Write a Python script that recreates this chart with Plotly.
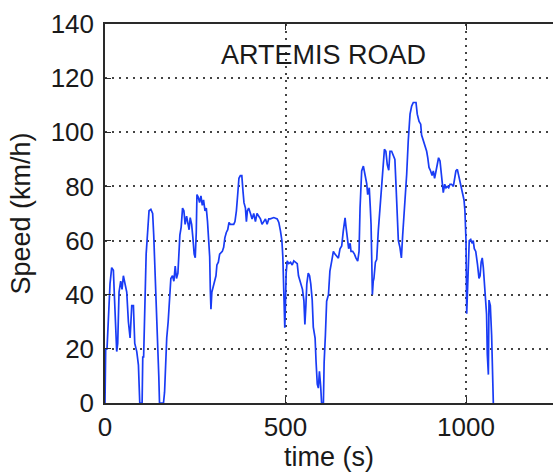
import plotly.graph_objects as go

# ARTEMIS road driving cycle: vehicle speed versus time
time_s = [
    0, 1.9, 5.6, 9.3, 13.9, 18.5, 23.2, 25.9, 28.7, 32.4, 35.2, 38.9, 43.5, 47.2,
    50.9, 55.6, 60.2, 64.8, 69.5, 74.1, 78.7, 82.4, 88.0, 92.6, 96.3, 102.8,
    104.6, 107, 111, 114, 118.5, 122, 127, 132, 135, 138, 140.7, 143.5, 146,
    149, 151, 162, 165, 167.6, 171, 175, 178.7, 182.4, 187, 190.8, 194.5, 198,
    202, 204.6, 207.4, 211, 214.8, 218.5, 222, 226, 229.6, 233, 236, 240,
    243.5, 247, 250, 252.8, 254.7, 258.4, 262, 265.8, 269.5, 273, 277, 280.6,
    284, 287, 290, 291.7, 293.5, 296, 300, 303.7, 307.4, 310, 314, 317.6, 321,
    325, 328.7, 332, 336, 340, 343.5, 347, 352, 356.5, 360, 364, 367.6, 371,
    375, 379, 382.4, 385, 389, 391.7, 394.5, 398, 403, 407.4, 412, 416.7, 421,
    426, 430.6, 435, 440, 444.5, 449, 453.7, 458, 467.6, 477, 481.5, 486, 490,
    492.6, 494.5, 496, 498, 500, 501.8, 504.7, 509, 514, 518.6, 523, 528,
    532.5, 536, 540, 543.6, 547, 551, 553.7, 556.5, 559, 563, 566.7, 570, 574,
    577, 582, 584.6, 588, 591, 594, 597.5, 600, 605, 607, 610.5, 614, 619, 623,
    628, 632.6, 637, 642, 646.5, 651, 655.7, 660, 665, 667.7, 671, 675, 679,
    681.5, 686, 691, 695, 700, 703.7, 706.5, 711, 715.7, 720, 725, 727.7, 732,
    735, 737, 739, 740.6, 743, 745, 749, 752.6, 757, 762, 766.4, 771, 774, 778,
    782, 786, 789.5, 794, 799, 803, 806, 810, 812.6, 817, 821, 824.6, 831,
    835.7, 840, 845, 849.5, 854, 861.5, 865, 870, 874.5, 877, 882, 886.4, 891,
    894, 897.5, 902, 906, 909.5, 913, 917, 920.6, 924, 928, 931, 933.5, 937,
    941, 944.6, 948, 952, 955.7, 960, 965, 968.6, 972, 976, 980, 983, 988, 991,
    994.5, 997, 999, 1000, 1002, 1003.7, 1006.4, 1009, 1013, 1016.6, 1020,
    1023, 1027, 1029.5, 1032, 1036, 1039, 1042, 1045, 1048, 1051, 1054.4, 1057,
    1059, 1062, 1063.7, 1067.4, 1071, 1074, 1075.7,
]
speed_kmh = [
    0, 20, 20, 34, 44, 50, 49, 40, 29, 19, 22, 41, 45, 42,
    47, 44, 41, 30, 24, 36, 36, 22, 19, 14, 0, 0,
    17, 17, 40, 55, 64, 71, 71.5, 70, 62, 52, 40, 33, 24,
    10, 0, 0, 4, 15, 24, 30, 41, 46, 47, 45, 50.6, 46,
    48, 55, 62, 65, 72, 71, 66, 69, 66, 64, 68.5, 66,
    61, 55, 53.7, 63, 77, 76, 74, 76.5, 73, 75, 71, 72,
    67, 61, 54, 42, 34.6, 41, 43, 45, 47, 51, 52, 55, 55.5,
    56, 57.5, 61, 63, 64, 66.7, 66, 66, 66, 67, 71, 77, 83,
    84, 84, 78, 74, 72, 67, 71, 72, 70, 68, 70, 67, 70,
    69, 68, 66, 67, 68, 66, 68, 68, 68.5, 68, 66.7, 63.6, 60,
    54, 44, 36, 27.8, 37, 48, 52.5, 51.5, 52, 51, 52.5, 52,
    51.5, 47, 45, 44, 42, 37.7, 29, 36, 44, 48, 47, 44, 38,
    28, 24, 15.4, 7, 5.5, 11.7, 6, 0, 0, 15, 25, 37.6, 40, 48.7,
    52.4, 56, 55, 54, 53.5, 57, 58, 63.5, 68.4, 65, 60, 57, 59,
    56, 56, 55, 53.6, 52.4, 56, 72, 85.7, 87.5, 84.5, 81, 77, 79.5,
    72, 66, 52.4, 40, 45, 46, 52, 53, 63.5, 73, 82, 89.4, 93.7, 93,
    88, 86, 93, 93, 91, 90, 80.8, 68.4, 60, 57.5, 53.6, 62, 73,
    84.5, 96.8, 106.7, 109.7, 111, 111, 106.7, 104, 103, 99, 96.7, 95, 93,
    90.6, 87, 85.7, 84, 85.7, 83, 85.7, 88, 90.6, 89.4, 84.5, 81.5, 77.7,
    80.8, 79.5, 80, 79.5, 80.8, 80.8, 80, 83.8, 85.7, 86.3, 83.8, 82, 79.5, 77.7,
    75, 71, 65, 60, 33, 40, 52, 60, 60.4, 59, 60,
    57, 56, 52, 51, 46, 47, 52, 53.6, 50, 45, 40, 32.7,
    18, 10.5, 38, 36, 25, 5.5, 0,
]

x_ticks = [0, 500, 1000]
y_ticks = [0, 20, 40, 60, 80, 100, 120, 140]

FONT = "Liberation Sans, Arial, sans-serif"
INK = "#1a1a1a"

fig = go.Figure(
    go.Scatter(
        x=time_s,
        y=speed_kmh,
        mode="lines",
        line=dict(color="rgb(25,60,245)", width=1.7),
        hoverinfo="skip",
    )
)

fig.add_annotation(
    x=604, y=128.5, xref="x", yref="y",
    text="ARTEMIS ROAD", showarrow=False,
    font=dict(family=FONT, size=27, color=INK),
)

axis_common = dict(
    showline=True,
    linecolor="#2a2a2a",
    linewidth=1.5,
    ticks="inside",
    ticklen=6,
    tickwidth=1.2,
    tickcolor="#2a2a2a",
    showgrid=True,
    gridcolor="#444444",
    gridwidth=1.5,
    griddash="1.5px,5.5px",
    zeroline=False,
    tickfont=dict(family=FONT, size=26, color=INK),
)

fig.update_xaxes(
    **axis_common,
    range=[0, 1241],
    tickvals=x_ticks,
    mirror="ticks",
    title=dict(text="time (s)", font=dict(family=FONT, size=27, color=INK), standoff=4),
)
fig.update_yaxes(
    **axis_common,
    range=[0, 140],
    tickvals=y_ticks,
    ticklabelstandoff=4,
    title=dict(text="Speed (km/h)", font=dict(family=FONT, size=27, color=INK), standoff=12),
)

fig.update_layout(
    width=553,
    height=472,
    margin=dict(l=105, r=0, t=24, b=69),
    paper_bgcolor="white",
    plot_bgcolor="white",
    showlegend=False,
    font=dict(family=FONT),
)

fig.write_html("out.html")
